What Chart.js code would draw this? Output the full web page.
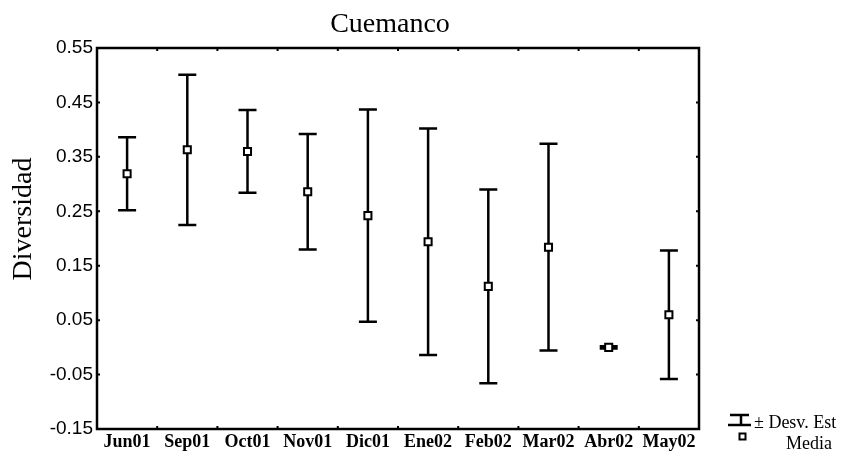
<!DOCTYPE html>
<html>
<head>
<meta charset="utf-8">
<title>Cuemanco</title>
<script src="https://cdn.jsdelivr.net/npm/chart.js@4/dist/chart.umd.min.js"></script>
<style>
  html, body { margin: 0; padding: 0; background: #fff; }
  #wrap { width: 852px; height: 453px; }
</style>
</head>
<body>
<div id="wrap"><canvas id="chart" width="852" height="453"></canvas></div>
<script>
// meses de muestreo
const months = ['Jun01', 'Sep01', 'Oct01', 'Nov01', 'Dic01', 'Ene02', 'Feb02', 'Mar02', 'Abr02', 'May02'];
// diversidad media por mes
const means = [0.319, 0.363, 0.360, 0.286, 0.242, 0.194, 0.112, 0.184, 0.000, 0.060];
// desviación estándar por mes
const sds = [0.067, 0.138, 0.076, 0.106, 0.195, 0.208, 0.178, 0.190, 0.002, 0.118];
// marcas del eje Y
const yTicks = [-0.15, -0.05, 0.05, 0.15, 0.25, 0.35, 0.45, 0.55];

const SERIF = '"Liberation Serif", "DejaVu Serif", serif';
const SANS = '"Liberation Sans", Arial, sans-serif';

// barras de ± desviación, dibujadas antes que los marcadores
const errorBars = {
  id: 'errorBars',
  beforeDatasetsDraw(chart) {
    const { ctx, scales: { x, y } } = chart;
    ctx.save();
    ctx.strokeStyle = '#000';
    ctx.lineWidth = 2.5;
    means.forEach((m, i) => {
      const px = x.getPixelForValue(i);
      const top = y.getPixelForValue(m + sds[i]);
      const bot = y.getPixelForValue(m - sds[i]);
      ctx.beginPath();
      ctx.moveTo(px, top); ctx.lineTo(px, bot);
      ctx.moveTo(px - 9, top); ctx.lineTo(px + 9, top);
      ctx.moveTo(px - 9, bot); ctx.lineTo(px + 9, bot);
      ctx.stroke();
    });
    ctx.restore();
  }
};

// marco con marcas hacia adentro, título, etiqueta del eje Y y leyenda
const decorations = {
  id: 'decorations',
  afterDraw(chart) {
    const { ctx, chartArea: a, scales: { x, y } } = chart;
    ctx.save();
    ctx.strokeStyle = '#000';
    ctx.lineWidth = 2.5;
    ctx.strokeRect(a.left, a.top, a.right - a.left, a.bottom - a.top);

    ctx.lineWidth = 2;
    ctx.beginPath();
    yTicks.forEach(v => {
      const py = y.getPixelForValue(v);
      ctx.moveTo(a.left, py); ctx.lineTo(a.left + 3, py);
      ctx.moveTo(a.right, py); ctx.lineTo(a.right - 3, py);
    });
    for (let i = 1; i < months.length; i++) {
      const px = (x.getPixelForValue(i - 1) + x.getPixelForValue(i)) / 2;
      ctx.moveTo(px, a.top); ctx.lineTo(px, a.top + 3);
      ctx.moveTo(px, a.bottom); ctx.lineTo(px, a.bottom - 3);
    }
    ctx.stroke();

    ctx.fillStyle = '#000';
    ctx.textAlign = 'center';
    ctx.textBaseline = 'alphabetic';
    ctx.font = '28px ' + SERIF;
    ctx.fillText('Cuemanco', 390, 32);

    ctx.save();
    ctx.translate(31, 219);
    ctx.rotate(-Math.PI / 2);
    ctx.font = '28px ' + SERIF;
    ctx.fillText('Diversidad', 0, 0);
    ctx.restore();

    // leyenda
    ctx.lineWidth = 2.5;
    ctx.beginPath();
    ctx.moveTo(730, 415); ctx.lineTo(749, 415);
    ctx.moveTo(741, 415); ctx.lineTo(741, 425);
    ctx.moveTo(728, 425); ctx.lineTo(751, 425);
    ctx.stroke();
    ctx.lineWidth = 2;
    ctx.fillStyle = '#fff';
    ctx.fillRect(739.5, 433.5, 6, 6);
    ctx.strokeRect(739.5, 433.5, 6, 6);

    ctx.fillStyle = '#000';
    ctx.textAlign = 'left';
    ctx.font = '18px ' + SERIF;
    ctx.fillText('\u00b1 Desv. Est', 754, 428);
    ctx.fillText('Media', 786, 449);
    ctx.restore();
  }
};

new Chart(document.getElementById('chart'), {
  type: 'line',
  data: {
    labels: months,
    datasets: [{
      label: 'Media',
      data: means,
      showLine: false,
      pointStyle: 'rect',
      pointRadius: 5,
      pointHoverRadius: 5,
      pointBorderWidth: 2,
      pointBackgroundColor: '#fff',
      pointBorderColor: '#000'
    }]
  },
  options: {
    responsive: false,
    animation: false,
    events: [],
    layout: { padding: { top: 48, right: 153, bottom: 0, left: 0 } },
    plugins: {
      legend: { display: false },
      title: { display: false },
      tooltip: { enabled: false }
    },
    scales: {
      x: {
        type: 'category',
        offset: true,
        border: { display: false },
        grid: { display: false, drawTicks: false },
        ticks: {
          color: '#000',
          font: { family: SERIF, size: 18, weight: 'bold' },
          padding: 3,
          autoSkip: false,
          maxRotation: 0
        },
        afterFit(scale) { scale.height = 24; }
      },
      y: {
        min: -0.15,
        max: 0.55,
        border: { display: false },
        grid: { display: false, drawTicks: false },
        afterBuildTicks(scale) { scale.ticks = yTicks.map(v => ({ value: v })); },
        ticks: {
          color: '#000',
          font: { family: SANS, size: 19 },
          padding: 4,
          callback: v => v.toFixed(2)
        },
        afterFit(scale) { scale.width = 97; }
      }
    }
  },
  plugins: [errorBars, decorations]
});
</script>
</body>
</html>
